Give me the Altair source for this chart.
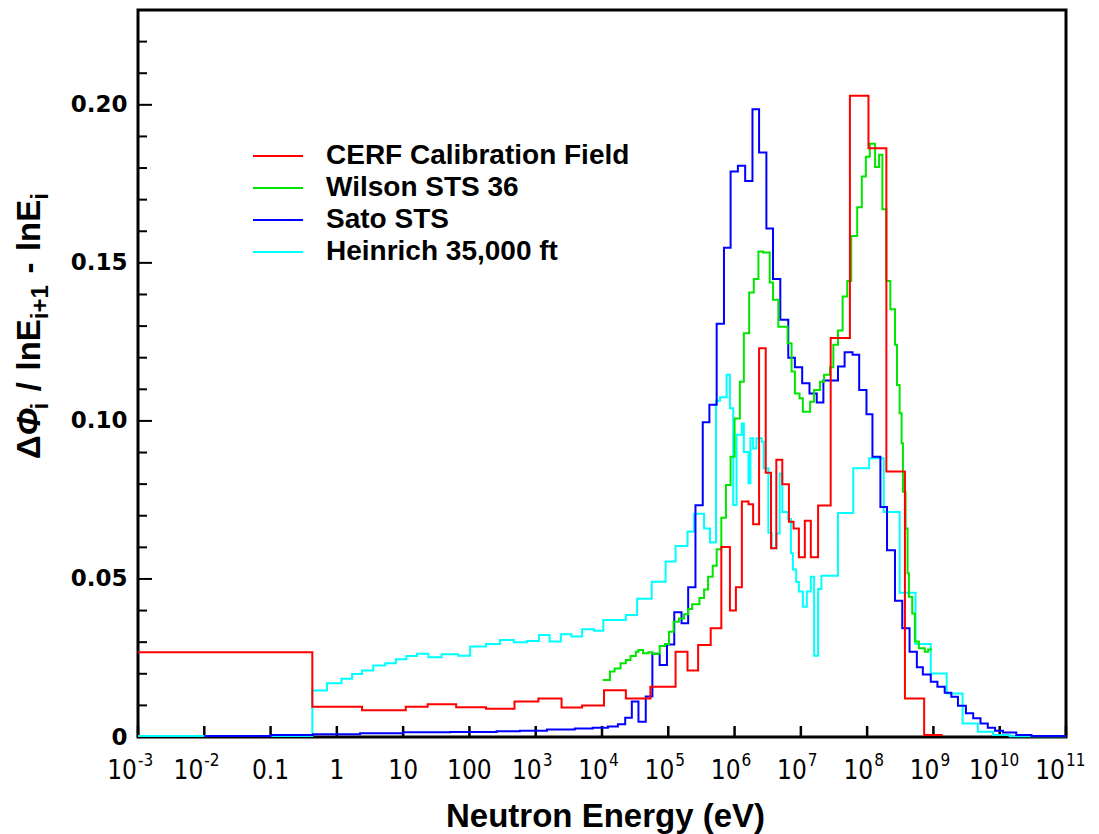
import altair as alt
import pandas as pd

# ---------------------------------------------------------------------------
# Neutron spectra: step histograms, bin edges given as log10(E / eV),
# values are fluence per unit lethargy (one value per bin)
# ---------------------------------------------------------------------------
series_names = ["CERF Calibration Field", "Wilson STS 36", "Sato STS", "Heinrich 35,000 ft"]
series_colors = ["#ff0000", "#00e600", "#0000ff", "#00ffff"]

cerf_log_edges = [-3.00, -0.37, 0.38, 1.04, 1.37, 1.80, 2.25, 2.68, 3.04, 3.39,
                  3.70, 4.03, 4.36, 4.73, 5.11, 5.29, 5.45, 5.64, 5.80, 5.93,
                  6.02, 6.11, 6.21, 6.28, 6.37, 6.47, 6.55, 6.63, 6.72, 6.82,
                  6.89, 6.97, 7.06, 7.15, 7.26, 7.45, 7.74, 8.02, 8.29, 8.57,
                  8.86, 9.14]
cerf_flux = [0.0268, 0.0096, 0.0085, 0.0096, 0.0104, 0.0094, 0.0089, 0.0112, 0.0122, 0.0093,
             0.0100, 0.0148, 0.0122, 0.0159, 0.0270, 0.0210, 0.0291, 0.0344, 0.0601, 0.0400,
             0.0474, 0.0745, 0.0736, 0.0673, 0.1230, 0.0836, 0.0597, 0.0877, 0.0800, 0.0681,
             0.0660, 0.0569, 0.0684, 0.0569, 0.0732, 0.1262, 0.2029, 0.1863, 0.0840, 0.0122,
             0.0006]

wilson_log_edges = [4.01, 4.12, 4.19, 4.28, 4.36, 4.43, 4.51, 4.55, 4.62, 4.70,
                    4.76, 4.87, 4.95, 5.01, 5.08, 5.16, 5.24, 5.30, 5.36, 5.47,
                    5.54, 5.60, 5.67, 5.73, 5.80, 5.87, 5.94, 6.00, 6.08, 6.14,
                    6.22, 6.29, 6.36, 6.43, 6.53, 6.58, 6.66, 6.80, 6.86, 6.91,
                    6.98, 7.03, 7.14, 7.20, 7.29, 7.35, 7.44, 7.49, 7.56, 7.63,
                    7.70, 7.76, 7.85, 7.92, 7.98, 8.04, 8.12, 8.18, 8.23, 8.29,
                    8.35, 8.42, 8.45, 8.49, 8.52, 8.54, 8.58, 8.61, 8.63, 8.68,
                    8.72, 8.78, 8.87, 8.92, 8.98]
wilson_flux = [0.0180, 0.0207, 0.0217, 0.0233, 0.0244, 0.0256, 0.0270, 0.0275, 0.0265, 0.0268,
               0.0263, 0.0288, 0.0294, 0.0333, 0.0365, 0.0375, 0.0388, 0.0405, 0.0420, 0.0440,
               0.0467, 0.0507, 0.0542, 0.0594, 0.0694, 0.0797, 0.0887, 0.1008, 0.1124, 0.1277,
               0.1406, 0.1449, 0.1536, 0.1533, 0.1438, 0.1383, 0.1298, 0.1246, 0.1156, 0.1087,
               0.1072, 0.1029, 0.1061, 0.1098, 0.1124, 0.1146, 0.1170, 0.1241, 0.1286, 0.1394,
               0.1443, 0.1585, 0.1676, 0.1773, 0.1836, 0.1877, 0.1803, 0.1842, 0.1670, 0.1443,
               0.1353, 0.1241, 0.1114, 0.1024, 0.0929, 0.0776, 0.0660, 0.0518, 0.0444, 0.0391,
               0.0302, 0.0281, 0.0270, 0.0277]

sato_log_edges = [-2.00, -1.00, -0.36, 0.35, 1.00, 1.71, 2.41, 2.76, 3.17, 3.59,
                  3.86, 4.09, 4.24, 4.35, 4.45, 4.55, 4.66, 4.76, 4.87, 4.98,
                  5.09, 5.20, 5.30, 5.41, 5.52, 5.62, 5.73, 5.84, 5.94, 6.05,
                  6.16, 6.27, 6.37, 6.48, 6.58, 6.69, 6.81, 6.91, 7.02, 7.13,
                  7.24, 7.34, 7.56, 7.66, 7.78, 7.88, 7.99, 8.08, 8.20, 8.30,
                  8.42, 8.53, 8.64, 8.75, 8.84, 8.96, 9.06, 9.17, 9.27, 9.37,
                  9.49, 9.60, 9.71, 9.82, 9.93, 10.05, 10.25, 10.48, 11.00]
sato_flux = [0.0003, 0.0006, 0.0009, 0.0012, 0.0015, 0.0016, 0.0018, 0.0020, 0.0024, 0.0027,
             0.0029, 0.0033, 0.0040, 0.0061, 0.0112, 0.0048, 0.0128, 0.0263, 0.0228, 0.0293,
             0.0395, 0.0360, 0.0474, 0.0733, 0.0996, 0.1051, 0.1307, 0.1548, 0.1789, 0.1807,
             0.1759, 0.1986, 0.1849, 0.1609, 0.1449, 0.1320, 0.1200, 0.1170, 0.1119, 0.1087,
             0.1058, 0.1128, 0.1172, 0.1217, 0.1209, 0.1098, 0.1021, 0.0887, 0.0728, 0.0591,
             0.0431, 0.0344, 0.0270, 0.0221, 0.0198, 0.0175, 0.0159, 0.0140, 0.0127, 0.0099,
             0.0075, 0.0059, 0.0043, 0.0029, 0.0020, 0.0014, 0.0006, 0.0003]

heinrich_log_edges = [-3.00, -0.37, -0.15, 0.07, 0.23, 0.38, 0.55, 0.73, 0.89, 1.05,
                      1.21, 1.38, 1.58, 1.83, 2.01, 2.25, 2.46, 2.67, 2.87, 3.05,
                      3.21, 3.38, 3.54, 3.70, 3.88, 4.02, 4.36, 4.53, 4.75, 4.96,
                      5.11, 5.29, 5.39, 5.54, 5.63, 5.72, 5.78, 5.88, 5.93, 5.98,
                      6.03, 6.11, 6.14, 6.21, 6.24, 6.28, 6.33, 6.41, 6.44, 6.51,
                      6.56, 6.63, 6.68, 6.72, 6.81, 6.85, 6.88, 6.93, 6.97, 7.03,
                      7.09, 7.15, 7.20, 7.26, 7.31, 7.56, 7.79, 8.03, 8.25, 8.49,
                      8.73, 8.96, 9.20, 9.44, 9.67, 9.90, 10.15, 11.00]
heinrich_flux = [0.0003, 0.0147, 0.0170, 0.0184, 0.0199, 0.0210, 0.0226, 0.0233, 0.0246, 0.0256,
                 0.0263, 0.0252, 0.0262, 0.0257, 0.0286, 0.0294, 0.0307, 0.0300, 0.0304, 0.0323,
                 0.0302, 0.0325, 0.0318, 0.0341, 0.0336, 0.0370, 0.0386, 0.0437, 0.0491, 0.0555,
                 0.0604, 0.0650, 0.0706, 0.0660, 0.0615, 0.1064, 0.1075, 0.1146, 0.1040, 0.0734,
                 0.0956, 0.0992, 0.0902, 0.0803, 0.0945, 0.0913, 0.0945, 0.0934, 0.0850, 0.0646,
                 0.0597, 0.0644, 0.0834, 0.0712, 0.0690, 0.0581, 0.0530, 0.0490, 0.0460, 0.0412,
                 0.0460, 0.0507, 0.0257, 0.0468, 0.0510, 0.0709, 0.0850, 0.0882, 0.0712, 0.0456,
                 0.0294, 0.0201, 0.0138, 0.0043, 0.0017, 0.0006, 0.0002]

# axis ticks and labels
x_tick_values = [1e-3, 1e-2, 0.1, 1, 10, 100, 1e3, 1e4, 1e5, 1e6, 1e7, 1e8, 1e9, 1e10, 1e11]
x_tick_base = ["10", "10", "0.1", "1", "10", "100", "10", "10", "10", "10", "10", "10", "10", "10", "10"]
x_tick_power = ["-3", "-2", "", "", "", "", "3", "4", "5", "6", "7", "8", "9", "10", "11"]
y_major_ticks = [0.0, 0.05, 0.10, 0.15, 0.20]
y_minor_ticks = [0.01, 0.02, 0.03, 0.04, 0.06, 0.07, 0.08, 0.09, 0.11, 0.12, 0.13, 0.14,
                 0.16, 0.17, 0.18, 0.19, 0.21, 0.22]

# y-axis title pieces: (text, is_subscript, is_italic)
y_title_parts = [("Δ", False, False), ("Φ", False, True), ("i", True, False),
                 ("/", False, False), ("lnE", False, False), ("i+1", True, False),
                 ("-", False, False), ("lnE", False, False), ("i", True, False)]

W, H = 928, 727
BOLD = "Liberation Sans"
NARROW = "Liberation Sans Narrow, DejaVu Sans Condensed, Liberation Sans"


def step_frame(log_edges, flux):
    """Bin edges + per-bin values -> points for a step-after line."""
    return pd.DataFrame({
        "E": [10 ** e for e in log_edges],
        "flux": list(flux) + [flux[-1]],
    })


x_scale = alt.Scale(type="log", domain=[1e-3, 1e11], nice=False)
y_scale = alt.Scale(domain=[0, 0.23], nice=False, zero=False)

y_axis = alt.Axis(
    values=y_major_ticks,
    labelExpr="datum.value == 0 ? '0' : format(datum.value, '.2f')",
    tickSize=0, domain=False, grid=False,
    labelFont="DejaVu Sans", labelFontWeight="bold", labelFontSize=23,
    labelPadding=11, labelColor="black",
    title="",
)
x_axis = alt.Axis(
    labels=False, ticks=False, domain=False, grid=False,
    title="Neutron Energy (eV)",
    titleFont=BOLD, titleFontWeight="bold", titleFontSize=33, titleColor="black",
    titleX=467, titleY=89, titleAlign="center", titleBaseline="alphabetic",
)

# inside-pointing y ticks
y_major_df = pd.DataFrame({"flux": y_major_ticks})
y_minor_df = pd.DataFrame({"flux": y_minor_ticks})
y_major_rules = alt.Chart(y_major_df).mark_rule(color="black", strokeWidth=2).encode(
    y=alt.Y("flux:Q", scale=y_scale, axis=y_axis),
    x=alt.value(0), x2=alt.value(14),
)
y_minor_rules = alt.Chart(y_minor_df).mark_rule(color="black", strokeWidth=2).encode(
    y=alt.Y("flux:Q", scale=y_scale),
    x=alt.value(0), x2=alt.value(9),
)

# inside-pointing x ticks at every decade
x_ticks_df = pd.DataFrame({"E": x_tick_values, "base": x_tick_base, "power": x_tick_power})
x_rules = alt.Chart(x_ticks_df).mark_rule(color="black", strokeWidth=2.5).encode(
    x=alt.X("E:Q", scale=x_scale, axis=x_axis),
    y=alt.value(H), y2=alt.value(H - 11),
)

# spectra, drawn so that the CERF field ends up on top
frames = {
    "CERF Calibration Field": step_frame(cerf_log_edges, cerf_flux),
    "Wilson STS 36": step_frame(wilson_log_edges, wilson_flux),
    "Sato STS": step_frame(sato_log_edges, sato_flux),
    "Heinrich 35,000 ft": step_frame(heinrich_log_edges, heinrich_flux),
}
colors = dict(zip(series_names, series_colors))
draw_order = ["Heinrich 35,000 ft", "Sato STS", "Wilson STS 36", "CERF Calibration Field"]
spectra = [
    alt.Chart(frames[name]).mark_line(
        interpolate="step-after", color=colors[name], strokeWidth=2
    ).encode(
        x=alt.X("E:Q", scale=x_scale),
        y=alt.Y("flux:Q", scale=y_scale),
    )
    for name in draw_order
]

# decade labels: plain numbers, and "10" with a raised exponent
plain_df = x_ticks_df[x_ticks_df["power"] == ""]
pow1_df = x_ticks_df[x_ticks_df["power"].str.len() == 1]
pow2_df = x_ticks_df[x_ticks_df["power"].str.len() == 2]

BASE_Y = H + 42
POW_Y = H + 29


def label_layer(df, field, align, dx, y, size):
    return alt.Chart(df).mark_text(
        align=align, baseline="alphabetic", dx=dx,
        font=NARROW, fontSize=size, color="black",
    ).encode(x=alt.X("E:Q", scale=x_scale), y=alt.value(y), text=f"{field}:N")


x_labels = [
    label_layer(plain_df, "base", "center", 0, BASE_Y, 26),
    label_layer(pow1_df, "base", "right", 6, BASE_Y, 26),
    label_layer(pow1_df, "power", "left", 7, POW_Y, 17),
    label_layer(pow2_df, "base", "right", -1, BASE_Y, 26),
    label_layer(pow2_df, "power", "left", 0, POW_Y, 17),
]

# rotated y-axis title with real subscripts, laid out bottom-to-top
CHAR_EM = {"Δ": 0.722, "Φ": 0.778, "i": 0.278, "/": 0.278, "l": 0.278, "n": 0.611,
           "E": 0.667, "+": 0.584, "1": 0.556, "-": 0.333}
MAIN_SIZE, SUB_SIZE = 33, 24
GAP = 0.35 * MAIN_SIZE
BASELINE_X = -98          # main-text baseline, left of the plot
SUB_SHIFT = 8             # subscripts drop below the baseline (to the right)


def run_width(text, size):
    return sum(CHAR_EM.get(ch, 0.6) for ch in text) * size


pieces = []
for text, sub, italic in y_title_parts:
    size = SUB_SIZE if sub else MAIN_SIZE
    gap = GAP if text in ("/", "-") else 0.0
    pieces.append((text, sub, italic, size, gap))
total = sum(run_width(t, s) + 2 * g for t, _, _, s, g in pieces)
cursor = 316 + total / 2   # start (bottom) of the title, centred on the plot
y_title_layers = []
for text, sub, italic, size, gap in pieces:
    cursor -= gap
    item = pd.DataFrame({"t": [text]})
    y_title_layers.append(
        alt.Chart(item).mark_text(
            angle=270, align="left", baseline="alphabetic",
            font=BOLD, fontWeight="bold", fontSize=size,
            fontStyle="italic" if italic else "normal", color="black",
        ).encode(
            x=alt.value(BASELINE_X + (SUB_SHIFT if sub else 0)),
            y=alt.value(cursor), text="t:N",
        )
    )
    cursor -= run_width(text, size) + gap

# legend inside the plot area
legend_layers = []
for i, name in enumerate(series_names):
    row_y = 146 + 32 * i
    item = pd.DataFrame({"name": [name]})
    legend_layers.append(
        alt.Chart(item).mark_rule(color=colors[name], strokeWidth=2).encode(
            x=alt.value(115), x2=alt.value(165), y=alt.value(row_y)
        )
    )
    legend_layers.append(
        alt.Chart(item).mark_text(
            align="left", baseline="middle", font=BOLD, fontWeight="bold",
            fontSize=28, color="black",
        ).encode(x=alt.value(188), y=alt.value(row_y), text="name:N")
    )

chart = alt.layer(
    y_major_rules, y_minor_rules, x_rules, *spectra, *x_labels,
    *y_title_layers, *legend_layers
).properties(
    width=W, height=H,
    autosize=alt.AutoSizeParams(type="none"),
    padding={"left": 138, "top": 10, "right": 33, "bottom": 97},
    background="white",
).configure_view(
    stroke="black", strokeWidth=3,
)

chart.save("out.html", embed_options={"renderer": "svg", "actions": False})
